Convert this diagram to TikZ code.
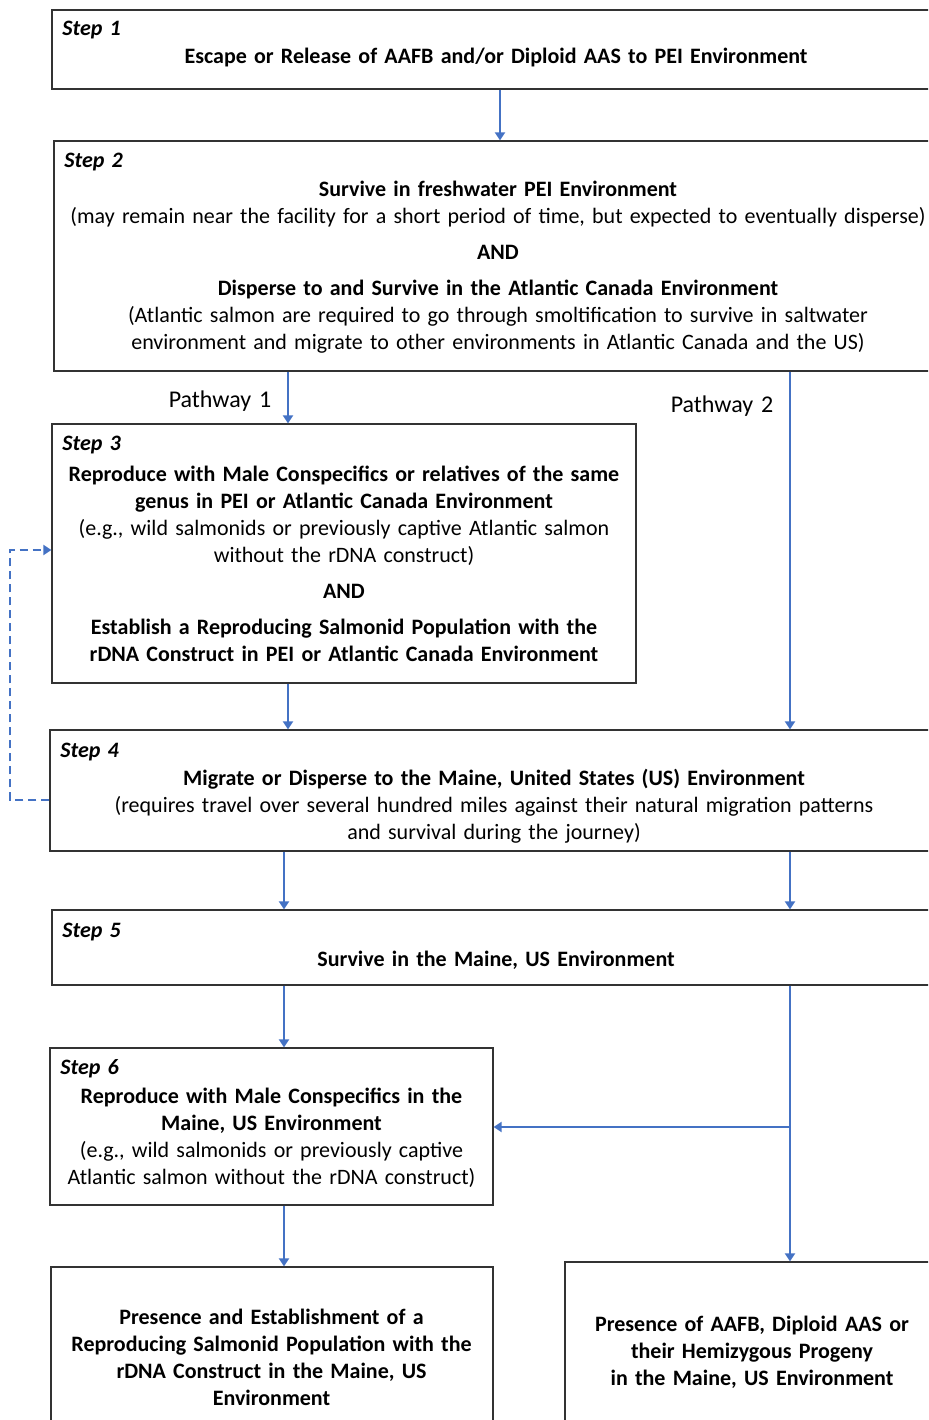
\documentclass[tikz,border=0pt]{standalone}
\usepackage{fontspec}
\setmainfont{Carlito}[WordSpace=1.45]
\usetikzlibrary{arrows.meta}
\definecolor{flowblue}{RGB}{68,114,196}

\begin{document}
\begin{tikzpicture}[
    x=0.5pt, y=-0.5pt,
    box/.style={draw=black!80, line width=0.6pt, rectangle, inner sep=0pt},
    txt/.style={align=center, inner sep=0pt, font=\fontsize{11}{13.5}\selectfont},
    steplbl/.style={anchor=west, inner sep=0pt, font=\fontsize{11}{13.5}\selectfont\bfseries\itshape},
    path/.style={inner sep=0pt, font=\fontsize{12}{14}\selectfont},
    flow/.style={-{Triangle[length=4pt,width=5pt]}, draw=flowblue, line width=1pt},
    back/.style={flow, dash pattern=on 4pt off 2.5pt}
]
\useasboundingbox (0,0) rectangle (928,1420);
\clip (0,0) rectangle (928,1420);

% boxes
\node[box, minimum width=444pt, minimum height=39.5pt] (s1) at (496,49.5)   {};
\node[box, minimum width=443pt, minimum height=115pt]  (s2) at (497,256)    {};
\node[box, minimum width=292pt, minimum height=129.5pt] (s3) at (344,553.5) {};
\node[box, minimum width=445pt, minimum height=60.5pt] (s4) at (495,790.5)  {};
\node[box, minimum width=444pt, minimum height=37.5pt] (s5) at (496,947.5)  {};
\node[box, minimum width=221.5pt, minimum height=78.5pt] (s6) at (271.5,1126.5) {};
\node[box, minimum width=221pt, minimum height=86.5pt] (s7) at (272,1353.5) {};
\node[box, minimum width=187.5pt, minimum height=89pt] (s8) at (752.5,1351) {};

% step labels
\node[steplbl] (l1) at (62,30)   {Step 1};
\node[steplbl] (l2) at (64,162)  {Step 2};
\node[steplbl] (l3) at (62,445)  {Step 3};
\node[steplbl] (l4) at (60,752)  {Step 4};
\node[steplbl] (l5) at (62,932)  {Step 5};
\node[steplbl] (l6) at (60,1069) {Step 6};

% texts
\node[txt] (t1) at (496,58) {\bfseries Escape or Release of AAFB and/or Diploid AAS to PEI Environment};
\node[txt] (t2) at (498,267.5) {\bfseries Survive in freshwater PEI Environment\\
  (may remain near the facility for a short period of time, but expected to eventually disperse)\\[4.5pt]
  \bfseries AND\\[4.5pt]
  \bfseries Disperse to and Survive in the Atlantic Canada Environment\\
  (Atlantic salmon are required to go through smoltification to survive in saltwater\\
  environment and migrate to other environments in Atlantic Canada and the US)};
\node[txt] (t3) at (344,564) {\bfseries Reproduce with Male Conspecifics or relatives of the same\\
  \bfseries genus in PEI or Atlantic Canada Environment\\
  (e.g., wild salmonids or previously captive Atlantic salmon\\
  without the rDNA construct)\\[4.5pt]
  \bfseries AND\\[4.5pt]
  \bfseries Establish a Reproducing Salmonid Population with the\\
  \bfseries rDNA Construct in PEI or Atlantic Canada Environment};
\node[txt] (t4) at (494,806.5) {\bfseries Migrate or Disperse to the Maine, United States (US) Environment\\
  (requires travel over several hundred miles against their natural migration patterns\\
  and survival during the journey)};
\node[txt] (t5) at (496,960) {\bfseries Survive in the Maine, US Environment};
\node[txt] (t6) at (271.5,1137.5) {\bfseries Reproduce with Male Conspecifics in the\\
  \bfseries Maine, US Environment\\
  (e.g., wild salmonids or previously captive\\
  Atlantic salmon without the rDNA construct)};
\node[txt] (t7) at (271.5,1357) {\bfseries Presence and Establishment of a\\
  \bfseries Reproducing Salmonid Population with the\\
  \bfseries rDNA Construct in the Maine, US\\
  \bfseries Environment};
\node[txt] (t8) at (752,1352.5) {\bfseries Presence of AAFB, Diploid AAS or\\
  \bfseries their Hemizygous Progeny\\
  \bfseries in the Maine, US Environment};

\node[path] (p1) at (220,401) {Pathway 1};
\node[path] (p2) at (722,406) {Pathway 2};

% connectors
\coordinate (colM) at (500,0);
\coordinate (colL) at (288,0);
\coordinate (colR) at (790,0);
\coordinate (colL2) at (284,0);
\coordinate (split) at (790,1127);
\coordinate (backA) at (10,800);
\coordinate (backB) at (10,550);

\draw[flow] (s1.south -| colM) -- (s2.north -| colM);
\draw[flow] (s2.south -| colL) -- (s3.north -| colL);
\draw[flow] (s2.south -| colR) -- (s4.north -| colR);
\draw[flow] (s3.south -| colL) -- (s4.north -| colL);
\draw[flow] (s4.south -| colL2) -- (s5.north -| colL2);
\draw[flow] (s4.south -| colR) -- (s5.north -| colR);
\draw[flow] (s5.south -| colL2) -- (s6.north -| colL2);
\draw[flow] (s6.south -| colL2) -- (s7.north -| colL2);
\draw[flow] (s5.south -| colR) -- (s8.north -| colR);
\draw[flow] (split) -- (s6.east |- split);
\draw[back] (s4.west |- backA) -- (backA) -- (backB) -- (s3.west |- backB);

\end{tikzpicture}
\end{document}
